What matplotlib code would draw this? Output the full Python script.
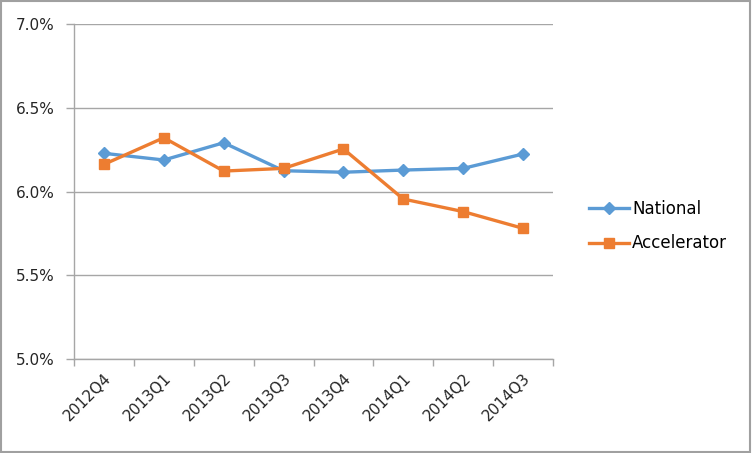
import matplotlib
matplotlib.use("Agg")
from matplotlib import pyplot as plt
from matplotlib.patches import Rectangle
from matplotlib.ticker import FuncFormatter, FixedLocator

quarters = ["2012Q4", "2013Q1", "2013Q2", "2013Q3", "2013Q4", "2014Q1", "2014Q2", "2014Q3"]
national = [6.228, 6.188, 6.291, 6.124, 6.115, 6.128, 6.138, 6.224]
accelerator = [6.162, 6.321, 6.122, 6.138, 6.254, 5.955, 5.880, 5.780]

blue = "#5B9BD5"
orange = "#ED7D31"
grid_col = "#A6A6A6"

fig = plt.figure(figsize=(7.52, 4.53), dpi=100)
ax = fig.add_axes([74 / 752, 1 - 359 / 453, (553 - 74) / 752, (359 - 24) / 453])

x = list(range(len(quarters)))
ax.plot(x, national, color=blue, lw=2.4, marker="D", ms=6, label="National")
ax.plot(x, accelerator, color=orange, lw=2.4, marker="s", ms=7.5, label="Accelerator")

ax.set_xlim(-0.5, len(quarters) - 0.5)
ax.set_ylim(5.0, 7.0)
ax.set_yticks([5.0, 5.5, 6.0, 6.5, 7.0])
ax.yaxis.set_major_formatter(FuncFormatter(lambda v, p: "%.1f%%" % v))
ax.grid(axis="y", color=grid_col, lw=1)
ax.set_axisbelow(True)

ax.set_xticks(x)
ax.set_xticklabels(quarters, rotation=45, ha="right", rotation_mode="anchor")
ax.xaxis.set_minor_locator(FixedLocator([i - 0.5 for i in range(len(quarters) + 1)]))
ax.tick_params(axis="x", which="major", length=0, pad=8, labelsize=11, labelcolor="#262626")
ax.tick_params(axis="x", which="minor", length=5, color=grid_col, width=1)
ax.tick_params(axis="y", length=6, color=grid_col, width=1, pad=8, labelsize=11, labelcolor="#262626")

for s in ["top", "right"]:
    ax.spines[s].set_visible(False)
for s in ["left", "bottom"]:
    ax.spines[s].set_color(grid_col)
    ax.spines[s].set_linewidth(1)

fig.legend(loc="center left", bbox_to_anchor=(574 / 752, 1 - 226 / 453), frameon=False,
           fontsize=12, handlelength=2.4, labelspacing=1.0, handletextpad=0.2)

fig.patches.append(Rectangle((0.001, 0.002), 0.997, 0.996, transform=fig.transFigure,
                             fill=False, edgecolor="#A0A0A0", lw=1.5))

fig.savefig("out.png", dpi=100)
